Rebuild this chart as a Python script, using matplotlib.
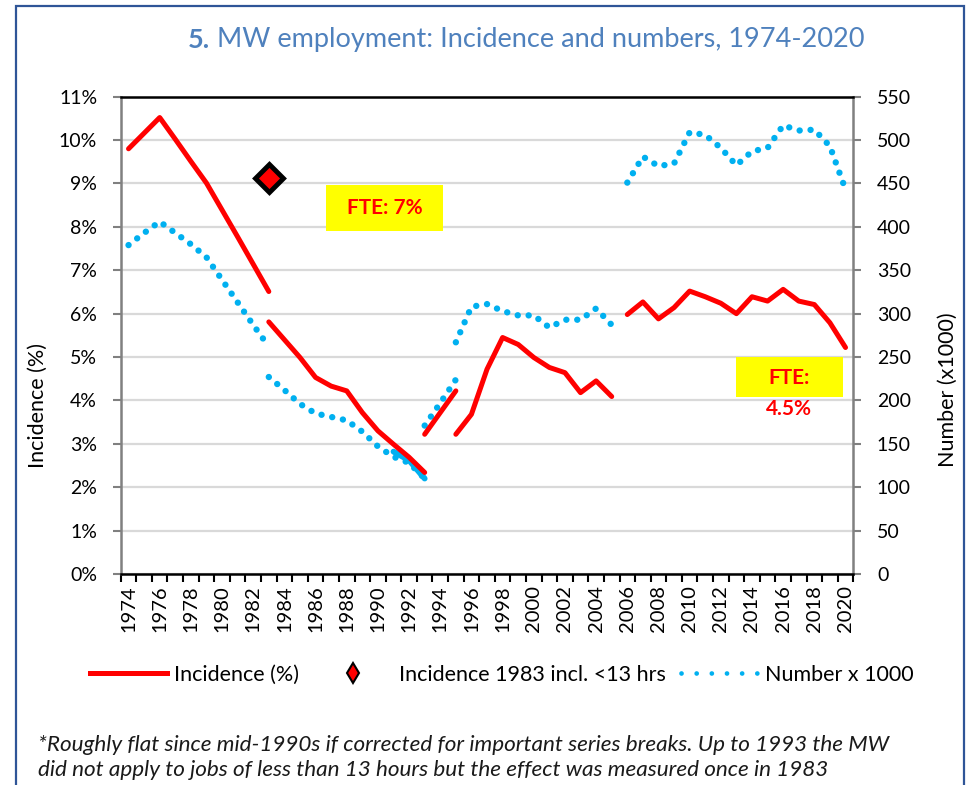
import matplotlib

matplotlib.use("Agg")
import matplotlib.pyplot as plt  # noqa: E402
from matplotlib.lines import Line2D  # noqa: E402
from matplotlib.patches import Rectangle  # noqa: E402

plt.rcParams["font.family"] = ["Lato", "DejaVu Sans"]

# ----------------------------------------------------------------------------
# Data
# ----------------------------------------------------------------------------
# Incidence (%), left axis -- the series has several breaks
inc_years_a = list(range(1974, 1984))
inc_a = [9.80, 10.16, 10.52, 10.02, 9.51, 9.01, 8.39, 7.77, 7.14, 6.51]
inc_years_b = list(range(1983, 1994))
inc_b = [5.81, 5.40, 4.99, 4.53, 4.33, 4.22, 3.72, 3.30, 2.99, 2.69, 2.34]
inc_years_c = [1993, 1994, 1995]
inc_c = [3.22, 3.72, 4.22]
inc_years_d = list(range(1995, 2006))
inc_d = [3.22, 3.68, 4.72, 5.45, 5.29, 4.99, 4.76, 4.64, 4.18, 4.45, 4.09]
inc_years_e = list(range(2006, 2021))
inc_e = [5.98, 6.27, 5.88, 6.14, 6.52, 6.39, 6.24, 6.00, 6.39, 6.29, 6.56,
         6.29, 6.21, 5.79, 5.22]

# Incidence 1983 incl. jobs < 13 hours
diamond_year = [1983]
diamond_value = [9.13]

# Number x 1000, right axis
num_years_a = list(range(1974, 1984))
num_a = [379, 393, 406, 393, 380, 365, 339, 313, 287, 262]
num_years_b = list(range(1983, 1994))
num_b = [227, 212, 196, 185, 181, 177, 164, 147, 135, 128, 110]
num_years_solid = [1991, 1992, 1993]
num_solid = [141, 131, 110]
num_years_c = [1993, 1994, 1995]
num_c = [171, 197, 224]
num_years_d = list(range(1995, 2006))
num_d = [267, 308, 311, 303, 298, 298, 284, 293, 293, 306, 287]
num_years_e = list(range(2006, 2021))
num_e = [451, 481, 470, 473, 509, 506, 491, 471, 487, 491, 517, 511, 512,
         493, 443]

year_labels = list(range(1974, 2021, 2))
pct_ticks = list(range(0, 12))
num_ticks = list(range(0, 551, 50))

TITLE_BOLD = "5."
TITLE_REST = " MW employment: Incidence and numbers, 1974-2020"
FOOTNOTE = ("*Roughly flat since mid-1990s if corrected for important series breaks. "
            "Up to 1993 the MW\n"
            "did not apply to jobs of less than 13 hours but the effect was measured once in 1983")

# ----------------------------------------------------------------------------
# Styles
# ----------------------------------------------------------------------------
RED = "#FF0000"
BLUE = "#00B0F0"
GRID = "#D9D9D9"
AXIS_GREY = "#808080"
TITLE_BLUE = "#4F81BD"
FRAME_BLUE = "#2F5597"
YELLOW = "#FFFF00"
FS = 14

red_kw = dict(color=RED, lw=3.6, solid_capstyle="round", solid_joinstyle="round", zorder=3)
dot_kw = dict(color=BLUE, lw=4.6, ls=(0, (0.01, 1.7)), dash_capstyle="round", zorder=2)

# ----------------------------------------------------------------------------
# Figure
# ----------------------------------------------------------------------------
fig = plt.figure(figsize=(9.69, 7.85), dpi=100)
ax = fig.add_axes([0.1246, 0.2688, 0.7560, 0.6080])
ax2 = ax.twinx()
ax2.set_zorder(1)
ax.set_zorder(2)
ax.patch.set_visible(False)

# blue series (right axis)
for xs, ys in [(num_years_a, num_a), (num_years_b, num_b), (num_years_c, num_c),
               (num_years_d, num_d), (num_years_e, num_e)]:
    ax2.plot(xs, ys, **dot_kw)
ax2.plot(num_years_solid, num_solid, color=BLUE, lw=4.2, solid_capstyle="round", zorder=2)

# red series (left axis)
for xs, ys in [(inc_years_a, inc_a), (inc_years_b, inc_b), (inc_years_c, inc_c),
               (inc_years_d, inc_d), (inc_years_e, inc_e)]:
    ax.plot(xs, ys, **red_kw)
ax.plot(diamond_year, diamond_value, ls="none", marker="D", ms=14, mfc=RED,
        mec="black", mew=3.5, zorder=4)

# axes limits and ticks
ax.set_xlim(1973.5, 2020.5)
ax.set_ylim(0, 11)
ax2.set_ylim(0, 550)

ax.set_xticks(year_labels)
ax.set_xticklabels([str(y) for y in year_labels], rotation=90, fontsize=14.5)
ax.set_xticks([y + 0.5 for y in range(1973, 2021)], minor=True)
ax.tick_params(axis="x", which="major", length=0, pad=8)
ax.tick_params(axis="x", which="minor", length=6, width=1.5, color="black")

ax.set_yticks(pct_ticks)
ax.set_yticklabels([f"{v}%" for v in pct_ticks], fontsize=FS)
ax.tick_params(axis="y", length=6, width=1.5, color=AXIS_GREY, pad=11)

ax2.set_yticks(num_ticks)
ax2.set_yticklabels([str(v) for v in num_ticks], fontsize=FS)
ax2.tick_params(axis="y", length=6, width=1.5, color=AXIS_GREY, pad=11)
ax2.grid(axis="y", color=GRID, lw=1.6)
ax2.set_axisbelow(True)

for side in ["top", "bottom"]:
    ax.spines[side].set_color("black")
    ax.spines[side].set_linewidth(1.8)
ax.spines["left"].set_color(AXIS_GREY)
ax.spines["left"].set_linewidth(1.8)
ax.spines["right"].set_visible(False)
for side in ["top", "bottom", "left"]:
    ax2.spines[side].set_visible(False)
ax2.spines["right"].set_color(AXIS_GREY)
ax2.spines["right"].set_linewidth(1.8)

# FTE annotation boxes (axes fractions)
ax.add_patch(Rectangle((0.280, 0.719), 0.160, 0.096, transform=ax.transAxes,
                       facecolor=YELLOW, edgecolor="none", zorder=5))
ax.text(0.360, 0.767, "FTE: 7%", transform=ax.transAxes, ha="center", va="center",
        color=RED, fontsize=15, fontweight="bold", zorder=6)
ax.add_patch(Rectangle((0.840, 0.371), 0.146, 0.084, transform=ax.transAxes,
                       facecolor=YELLOW, edgecolor="none", zorder=5))
ax.text(0.912, 0.411, "FTE:", transform=ax.transAxes, ha="center", va="center",
        color=RED, fontsize=15, fontweight="bold", zorder=6)
ax.text(0.912, 0.346, "4.5%", transform=ax.transAxes, ha="center", va="center",
        color=RED, fontsize=15, fontweight="bold", zorder=6)

# axis titles
fig.text(38 / 969, 1 - 406 / 785, "Incidence (%)", rotation=90, ha="center",
         va="center", fontsize=15.5)
fig.text(948 / 969, 1 - 390 / 785, "Number (x1000)", rotation=90, ha="center",
         va="center", fontsize=15.5)

# title: bold number followed by regular text
t1 = fig.text(188 / 969, 1 - 40 / 785, TITLE_BOLD, ha="left", va="center",
              fontsize=19.5, fontweight="bold", color=TITLE_BLUE)
fig.add_artist(matplotlib.text.Annotation(
    TITLE_REST, xy=(1, 0), xycoords=t1, ha="left", va="bottom",
    fontsize=19.5, color=TITLE_BLUE))

# legend
handles = [
    Line2D([], [], color=RED, lw=3.6),
    Line2D([], [], ls="none", marker="d", ms=10, mfc=RED, mec="black", mew=1.5),
    Line2D([], [], color=BLUE, lw=3.4, ls=(0, (0.01, 3.2)), dash_capstyle="round"),
]
labels = ["Incidence (%)", "Incidence 1983 incl. <13 hrs", "Number x 1000"]
fig.legend(handles, labels, loc="center", bbox_to_anchor=(502 / 969, 1 - 675 / 785),
           ncol=3, frameon=False, fontsize=15.5, handlelength=3.55, handletextpad=0.37,
           columnspacing=0.7)

# footnote
fig.text(38 / 969, 1 - 757.5 / 785, FOOTNOTE, ha="left", va="center", fontsize=16.2,
         fontstyle="italic", linespacing=1.32, color="#1a1a1a")

# outer frame (runs off the bottom of the image)
fig.add_artist(Rectangle((16 / 969, -0.05), (964 - 16) / 969, 1.05 - 6 / 785,
                         transform=fig.transFigure, fill=False, edgecolor=FRAME_BLUE,
                         lw=1.6, clip_on=False))

fig.savefig("out.png", dpi=100)
plt.close(fig)
